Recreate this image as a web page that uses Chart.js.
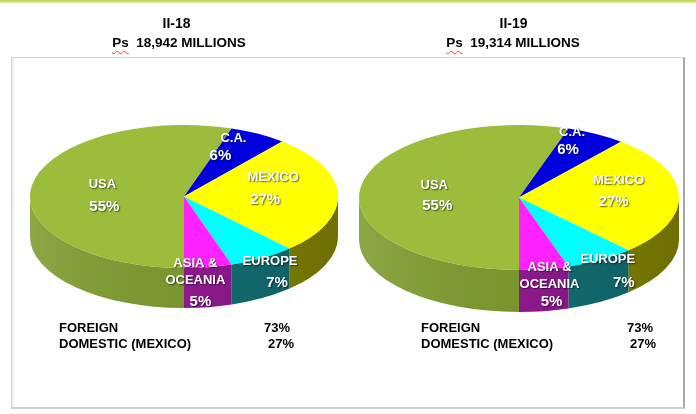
<!DOCTYPE html>
<html><head><meta charset="utf-8">
<script src="https://cdn.jsdelivr.net/npm/chart.js@4.4.1/dist/chart.umd.min.js"></script>
<style>
html,body{margin:0;padding:0;background:#fff;}
#wrap{position:relative;width:696px;height:414px;overflow:hidden;font-family:"Liberation Sans",Arial,sans-serif;font-weight:bold;color:#000;}
#topline{position:absolute;left:0;top:0;width:696px;height:3px;background:linear-gradient(#b5ce4c,#e2ecb0);}
#frame{position:absolute;left:11px;top:57px;width:674px;height:352px;box-sizing:border-box;border:1px solid #d6d6d6;border-right:2px solid #a8a8a8;border-bottom:2px solid #d0d0d0;box-shadow:inset 2px 0 2px rgba(0,0,0,0.07);}
canvas{position:absolute;top:0;z-index:2;}
.t{position:absolute;white-space:pre;font-size:14px;line-height:16px;transform:translate(-50%,-50%);z-index:3;}
.t2{font-size:13.5px;}
.ps{text-decoration:underline wavy #e04040;text-decoration-thickness:1px;text-underline-offset:3px;}
.s{position:absolute;font-size:13px;line-height:15px;white-space:pre;z-index:3;transform:translateY(-50%);}
.r{transform:translate(-100%,-50%);}
</style>
</head>
<body>
<div id="wrap">
  <div id="topline"></div>
  <div id="frame"></div>
  <canvas id="c1" width="348" height="414" style="left:0"></canvas>
  <canvas id="c2" width="348" height="414" style="left:348px"></canvas>
</div>
<script>
// ---- data ----
const categories = ['USA', 'C.A.', 'MEXICO', 'EUROPE', 'ASIA &\nOCEANIA'];
const periods = ['II-18', 'II-19'];
const totals = ['18,942', '19,314'];           // Ps millions
const shares18 = [55, 6, 27, 7, 5];
const shares19 = [55, 6, 27, 7, 5];
const summaryLabels = ['FOREIGN', 'DOMESTIC (MEXICO)'];
const summary18 = [73, 27];
const summary19 = [73, 27];

// ---- styles ----
const topColors  = ['#9cbd3b', '#0000dd', '#ffff00', '#00ffff', '#ff22ff'];
const sideColors = ['#7f9d30', '#00008a', '#8d8d02', '#137579', '#951a95'];

const pie3d = {
  id: 'pie3d',
  beforeDatasetsDraw(chart, args, o) {
    const arcs = chart.getDatasetMeta(0).data;
    if (!arcs.length) return;
    const ctx = chart.ctx;
    const ranges = [[0, Math.PI], [2 * Math.PI, 3 * Math.PI]];
    arcs.forEach((a, i) => {
      const p = a.getProps(['startAngle', 'endAngle'], true);
      ranges.forEach(([lo, hi]) => {
        const s = Math.max(p.startAngle, lo), e = Math.min(p.endAngle, hi);
        if (e <= s) return;
        ctx.beginPath();
        ctx.ellipse(o.X, o.Y, o.rx, o.ry, 0, s, e, false);
        ctx.ellipse(o.X, o.Y + o.depth, o.rx, o.ry, 0, e, s, true);
        ctx.closePath();
        ctx.fillStyle = o.sideColors[i];
        ctx.fill();
        const g = ctx.createLinearGradient(o.X - o.rx, 0, o.X + o.rx, 0);
        g.addColorStop(0, 'rgba(255,255,255,0.10)');
        g.addColorStop(0.5, 'rgba(0,0,0,0.05)');
        g.addColorStop(1, 'rgba(0,0,0,0.22)');
        ctx.fillStyle = g;
        ctx.fill();
      });
    });
    const a0 = arcs[0];
    ctx.save();
    ctx.translate(o.X, o.Y);
    ctx.scale(o.rx / a0.outerRadius, o.ry / a0.outerRadius);
    ctx.translate(-a0.x, -a0.y);
  },
  afterDatasetsDraw(chart, args, o) {
    const arcs = chart.getDatasetMeta(0).data;
    if (!arcs.length) return;
    const ctx = chart.ctx;
    ctx.restore();
    const labels = chart.data.labels;
    const vals = chart.data.datasets[0].data;
    ctx.save();
    ctx.fillStyle = '#ffffff';
    ctx.textAlign = 'center';
    ctx.textBaseline = 'middle';
    ctx.shadowColor = 'rgba(0,0,0,0.6)';
    ctx.shadowOffsetX = 1;
    ctx.shadowOffsetY = 1;
    ctx.shadowBlur = 1.5;
    arcs.forEach((a, i) => {
      const p = a.getProps(['startAngle', 'endAngle'], true);
      const mid = (p.startAngle + p.endAngle) / 2;
      const [f, dx, dy, pdx, pdy] = o.place[i];
      const x = o.X + f * o.rx * Math.cos(mid) + dx;
      let y = o.Y + f * o.ry * Math.sin(mid) + dy;
      const lines = labels[i].split('\n');
      ctx.font = 'bold 13px "Liberation Sans", Arial, sans-serif';
      lines.forEach((ln, k) => {
        ctx.fillText(ln, x, y + k * 17);
      });
      const ly = y + (lines.length - 1) * 17;
      ctx.font = 'bold 15px "Liberation Sans", Arial, sans-serif';
      ctx.fillText(vals[i] + '%', x + pdx, ly + pdy);
    });
    ctx.restore();
  }
};

function makePie(id, values, geom) {
  new Chart(document.getElementById(id), {
    type: 'pie',
    data: {
      labels: categories,
      datasets: [{ data: values, backgroundColor: topColors, borderWidth: 0 }]
    },
    options: {
      responsive: false,
      animation: false,
      rotation: 180,
      layout: { padding: { left: 21, right: 21, top: 54, bottom: 54 } },
      plugins: {
        legend: { display: false },
        tooltip: { enabled: false },
        pie3d: Object.assign({ sideColors: sideColors }, geom)
      }
    },
    plugins: [pie3d]
  });
}

makePie('c1', shares18, {
  X: 184, Y: 196.5, rx: 154, ry: 71.5, depth: 40,
  place: [[0.53, -1, -6, 2, 22], [0.72, -4, -13, -13, 17], [0.56, 3, -18, -8, 23], [1.2, -8, -9, 7, 22], [1.22, -18, -19, 5, 21]]
});
makePie('c2', shares19, {
  X: 171, Y: 197.5, rx: 160, ry: 72.5, depth: 42,
  place: [[0.53, -1, -6.5, 3, 21], [0.72, -2.5, -19, -4, 17], [0.56, 10, -16, -5, 22], [1.2, -9, -13, 16, 23], [1.22, 0, -17, 2, 17]]
});

// ---- titles and summary text ----
const wrap = document.getElementById('wrap');
function addDiv(cls, html, left, top) {
  const d = document.createElement('div');
  d.className = cls;
  d.innerHTML = html;
  d.style.left = left + 'px';
  d.style.top = top + 'px';
  wrap.appendChild(d);
  return d;
}
const titlePos = [[176.5, 179], [513.5, 513]];
periods.forEach((p, i) => {
  addDiv('t', p, titlePos[i][0], 23);
  addDiv('t t2', '<span class="ps">Ps</span>  ' + totals[i] + ' MILLIONS', titlePos[i][1], 43);
});
const sumSets = [summary18, summary19];
const sumX = [59, 421];
const sumValX = [[290, 294], [653, 656]];
sumSets.forEach((vals, i) => {
  summaryLabels.forEach((lab, k) => {
    addDiv('s', lab, sumX[i], 327 + k * 16);
    addDiv('s r', vals[k] + '%', sumValX[i][k], 327 + k * 16);
  });
});
</script>
</body></html>
